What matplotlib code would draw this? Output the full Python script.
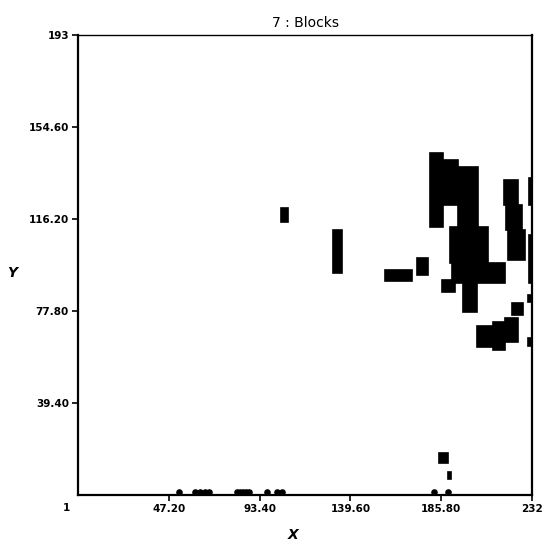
import numpy as np
import matplotlib
matplotlib.use("Agg")
import matplotlib.pyplot as plt

# block extents in data units (x from/to, y from/to)
blk_x0 = [180.1, 186.7, 194.3, 190.3, 191.3, 196.9, 217.8, 218.8, 219.8,
          173.5, 157.2, 186.2, 221.8, 204.0, 212.2, 218.3, 104.3, 130.7,
          184.7, 189.3, 230.4, 230.4, 230.0, 230.0]
blk_x1 = [186.7, 194.3, 204.5, 209.6, 218.3, 204.0, 224.9, 226.9, 228.4,
          179.1, 170.9, 192.8, 227.4, 212.2, 218.3, 224.9, 107.8, 135.3,
          189.3, 190.8, 232.0, 232.0, 232.0, 232.0]
blk_y0 = [112.9, 122.0, 112.4, 97.8, 89.5, 77.4, 122.0, 111.6, 99.1,
          92.8, 90.3, 85.7, 76.1, 62.8, 61.5, 64.9, 114.9, 93.7,
          14.4, 7.7, 122.0, 89.5, 81.6, 63.2]
blk_y1 = [143.7, 140.8, 137.9, 112.9, 97.8, 89.5, 132.5, 122.0, 111.6,
          99.9, 94.9, 90.7, 81.1, 71.5, 73.2, 74.9, 120.8, 111.6,
          18.5, 10.6, 133.3, 109.5, 84.5, 66.5]

# single points sitting on the bottom row
dot_x = [52.4, 60.5, 63.1, 65.6, 67.7, 81.9, 83.5, 85.0, 86.5, 88.0,
         97.2, 102.3, 104.6, 182.1, 189.3]
dot_y = [2.2] * len(dot_x)

xticks = [47.2, 93.4, 139.6, 185.8, 232]
xlabels = ["47.20", "93.40", "139.60", "185.80", "232"]
yticks = [39.4, 77.8, 116.2, 154.6, 193]
ylabels = ["39.40", "77.80", "116.20", "154.60", "193"]

fig = plt.figure(figsize=(5.55, 5.5), dpi=100)
ax = fig.add_axes([0.1405, 0.1, 0.8181, 0.8364])

x0 = np.array(blk_x0)
x1 = np.array(blk_x1)
y0 = np.array(blk_y0)
y1 = np.array(blk_y1)
ax.bar(x0, y1 - y0, width=x1 - x0, bottom=y0, align="edge",
       color="black", edgecolor="black", linewidth=1.2)
ax.scatter(dot_x, dot_y, s=14, color="black", zorder=3, clip_on=False)

ax.set_xlim(1, 232)
ax.set_ylim(1, 193)
ax.set_xticks(xticks)
ax.set_xticklabels(xlabels)
ax.set_yticks(yticks)
ax.set_yticklabels(ylabels)
ax.tick_params(direction="out", length=4.5, width=1.2, labelsize=7.5, pad=2)
for lbl in ax.get_xticklabels() + ax.get_yticklabels():
    lbl.set_fontweight("bold")

for side in ["left", "bottom", "right"]:
    ax.spines[side].set_linewidth(1.6)
ax.spines["top"].set_linewidth(1.0)

ax.set_title("7 : Blocks", fontsize=10, pad=6)
fig.text(66 / 555, 1 - 508 / 550, "1", ha="center", va="center",
         fontsize=7.5, fontweight="bold")
fig.text(293 / 555, 1 - 535 / 550, "X", ha="center", va="center",
         fontsize=10, style="italic", fontweight="bold")
fig.text(12 / 555, 1 - 273 / 550, "Y", ha="center", va="center",
         fontsize=10, style="italic", fontweight="bold")

fig.savefig("out.png", dpi=100)
